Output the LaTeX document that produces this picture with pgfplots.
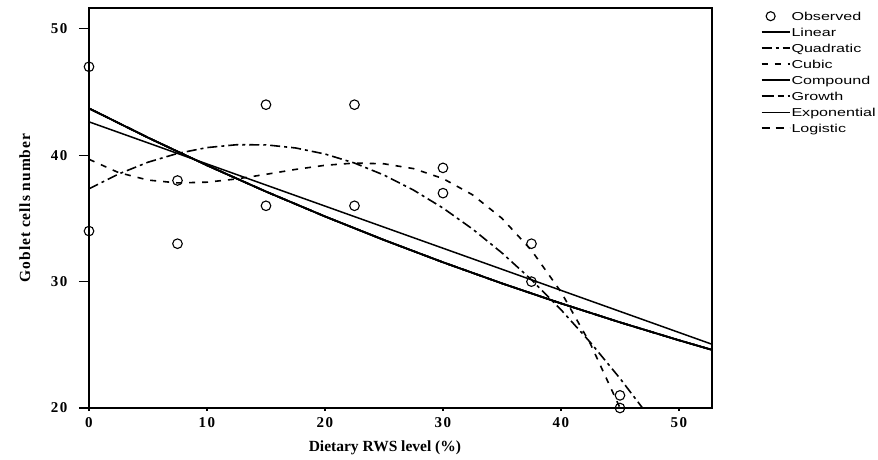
\documentclass[border=0pt]{standalone}
\usepackage{fontspec}
\setmainfont{Liberation Serif}
\newfontfamily\legfont[FakeStretch=1.4]{Liberation Sans}
\newfontfamily\tickfontfam[LetterSpace=10]{Liberation Serif}
\newfontfamily\ylabfam[LetterSpace=6]{Liberation Serif}
\usepackage{pgfplots}
\pgfplotsset{compat=1.18}
\usepackage{pgfplotstable}

\pgfplotstableread{
x y
0 47
0 34
7.5 38
7.5 33
15 44
15 36
22.5 44
22.5 36
30 39
30 37
37.5 33
37.5 30
45 21
45 20
}\observed

\pgfplotstableread{
x y
0 42.643
52.8 25.043
}\linear

\pgfplotstableread{
x y
0 37.346
2.5 38.513
5 39.447
7.5 40.143
10 40.605
12.5 40.831
15 40.822
17.5 40.577
20 40.097
22.5 39.381
25 38.430
27.5 37.243
30 35.822
32.5 34.164
35 32.271
37.5 30.143
40 27.779
42.5 25.180
45 22.346
47.5 19.276
}\quadratic

\pgfplotstableread{
x y
0 39.679
2.5 38.629
5 38.035
7.5 37.810
10 37.868
12.5 38.123
15 38.488
17.5 38.877
20 39.204
22.5 39.381
25 39.323
27.5 38.943
30 38.155
32.5 36.872
35 35.008
37.5 32.476
40 29.191
42.5 25.065
45 20.012
46.25 17.11
47.5 13.946
}\cubic

\pgfplotstableread{
x y
0 43.71
5 41.394
10 39.201
15 37.124
20 35.157
25 33.294
30 31.530
35 29.860
40 28.278
45 26.779
50 25.360
52.8 24.600
}\expo

\begin{document}
\begin{tikzpicture}
\begin{axis}[
  at={(0pt,0pt)}, anchor=south west,
  scale only axis, width=623pt, height=400pt,
  xmin=0, xmax=52.8, ymin=20, ymax=51.65,
  axis line style={line width=1.2pt},
  xtick={0,10,20,30,40,50}, ytick={20,30,40,50},
  xtick pos=left, ytick pos=left,
  tick align=outside, major tick length=3pt,
  tick style={line width=1.2pt, black},
  /pgf/number format/assume math mode=true,
  ticklabel style={font=\tickfontfam\fontsize{15}{17}\selectfont\bfseries},
  yticklabel style={xshift=-15pt},
  xticklabel style={yshift=-3pt},
  xlabel={Dietary RWS level (\%)},
  ylabel={Goblet cells number},
  xlabel style={font=\fontsize{15.5}{17}\selectfont\bfseries, at={(axis description cs:0.475,-0.1)}, anchor=center},
  ylabel style={font=\ylabfam\fontsize{15.5}{17}\selectfont\bfseries, at={(axis description cs:-0.103,0.5)}, anchor=center},
  legend style={at={(1.078,1)}, anchor=north west, draw=none, fill=none,
    font=\legfont\fontsize{11.5}{13}\selectfont, row sep=0pt, inner sep=0pt,
    nodes={inner sep=1pt, text height=11pt, text depth=3pt}},
  legend cell align=left,
  legend image code/.code={\draw[#1] (0pt,0pt) -- (28pt,0pt);},
]
\addplot[only marks, mark=o, mark size=4.8pt, line width=1.1pt, black,
  legend image code/.code={\draw[black, line width=1.1pt] (9pt,0pt) circle (4.5pt);}]
  table {\observed};
\addlegendentry{Observed}
\addplot[black, line width=1.5pt] table {\linear};
\addlegendentry{Linear}
\addplot[black, line width=1.6pt, dash pattern=on 10pt off 4pt on 3pt off 4pt] table {\quadratic};
\addlegendentry{Quadratic}
\addplot[black, line width=1.6pt, dash pattern=on 6pt off 7pt] table {\cubic};
\addlegendentry{Cubic}
\addplot[black, line width=1.7pt] table {\expo};
\addlegendentry{Compound}
\addplot[black, line width=1.7pt, dash pattern=on 12pt off 4pt on 6pt off 4pt] table {\expo};
\addlegendentry{Growth}
\addplot[black, line width=1.4pt] table {\expo};
\addlegendentry{Exponential}
\addplot[black, line width=1.7pt, dash pattern=on 8pt off 6pt] table {\expo};
\addlegendentry{Logistic}
\addplot[black, line width=1.7pt, forget plot] table {\expo};
\end{axis}
\begin{axis}[
  at={(0pt,0pt)}, anchor=south west,
  scale only axis, width=623pt, height=400pt,
  xmin=0, xmax=52.8, ymin=20, ymax=51.65,
  axis line style={draw=none},
  xtick=\empty, ytick={20,30,40,50}, yticklabels={},
  yticklabel style={opacity=0},
  ytick pos=left, tick align=outside, major tick length=10pt,
  tick style={line width=1.2pt, black},
]
\end{axis}
\pgfresetboundingbox
\path[use as bounding box] (-89pt,-51pt) rectangle (789pt,408pt);
\end{tikzpicture}
\end{document}
